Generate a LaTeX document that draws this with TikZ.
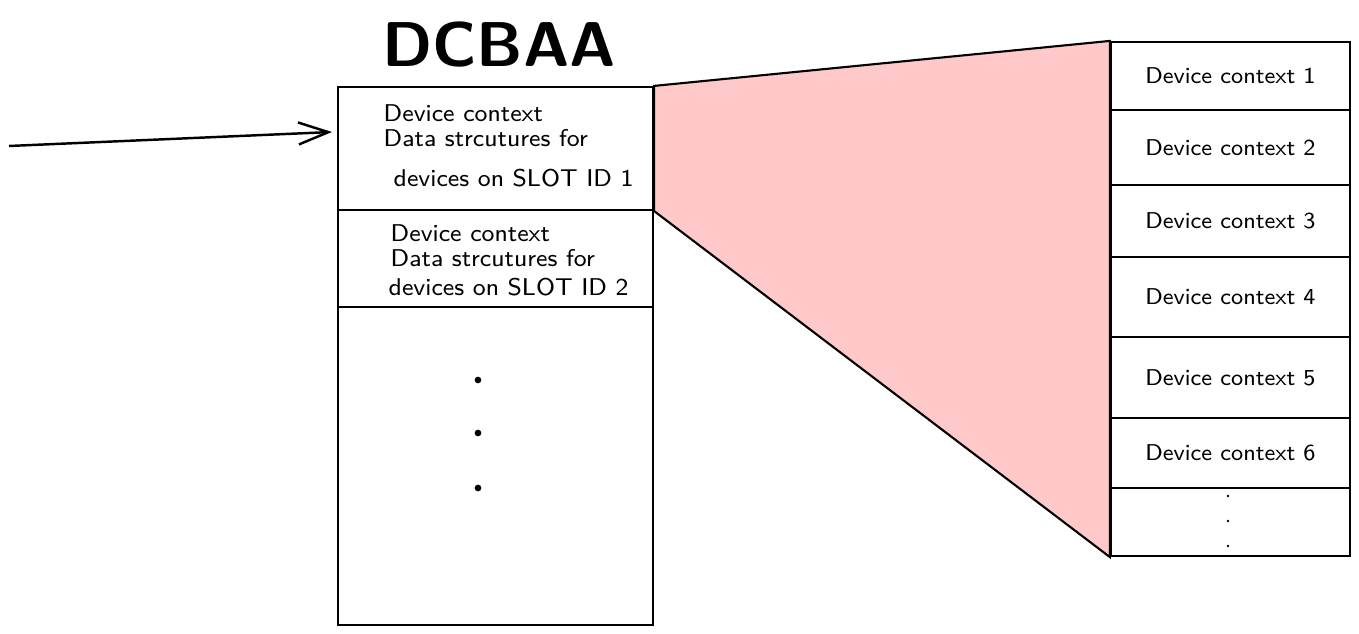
\documentclass[tikz,border=0pt]{standalone}
\usepackage{tikz}
\usetikzlibrary{arrows.meta,backgrounds}
\definecolor{zoompink}{HTML}{FFC9C9}

\begin{document}
\begin{tikzpicture}[x=0.01cm,y=-0.01cm,
  slot/.style={draw,line width=0.6pt,inner sep=0pt,minimum width=3.15cm},
  ctxcell/.style={draw,line width=0.6pt,inner sep=0pt,minimum width=2.39cm,
    font=\sffamily\fontsize{6.5}{8}\selectfont},
  txt/.style={font=\sffamily\fontsize{6.9}{8}\selectfont,inner sep=0pt},
  dot/.style={circle,fill=black,inner sep=0pt,minimum size=#1}]
\useasboundingbox (0,0) rectangle (1359,634);

% DCBAA column
\node[font=\sffamily\bfseries\fontsize{18}{22}\selectfont] (title) at (499,45) {DCBAA};
\node[slot,minimum height=1.23cm] (slot1) at (495.5,148.5) {};
\node[slot,minimum height=0.97cm] (slot2) at (495.5,258.5) {};
\node[slot,minimum height=3.18cm] (slotrest) at (495.5,466) {};

\node[txt,anchor=west] (s1a) at (383,113) {Device context};
\node[txt,anchor=west] (s1b) at (383,138) {Data strcutures for};
\node[txt,anchor=west] (s1c) at (393,178) {devices on SLOT ID 1};
\node[txt,anchor=west] (s2a) at (390,233) {Device context};
\node[txt,anchor=west] (s2b) at (390,258) {Data strcutures for};
\node[txt,anchor=west] (s2c) at (388,287) {devices on SLOT ID 2};

\node[dot=1.9pt] (d1) at (478,380) {};
\node[dot=1.9pt] (d2) at (478,433) {};
\node[dot=1.9pt] (d3) at (478,488) {};

% device contexts
\node[ctxcell,minimum height=0.68cm] (ctx1) at (1230.5,76) {Device context 1};
\node[ctxcell,minimum height=0.75cm] (ctx2) at (1230.5,147.5) {Device context 2};
\node[ctxcell,minimum height=0.72cm] (ctx3) at (1230.5,221) {Device context 3};
\node[ctxcell,minimum height=0.80cm] (ctx4) at (1230.5,297) {Device context 4\hspace{3pt}};
\node[ctxcell,minimum height=0.81cm] (ctx5) at (1230.5,377.5) {Device context 5};
\node[ctxcell,minimum height=0.70cm] (ctx6) at (1230.5,453) {Device context 6};
\node[ctxcell,minimum height=0.68cm] (ctxmore) at (1230.5,522) {};

\node[dot=0.8pt] (e1) at (1228,496) {};
\node[dot=0.8pt] (e2) at (1228,521) {};
\node[dot=0.8pt] (e3) at (1228,546) {};

\begin{scope}[on background layer]
\draw[fill=zoompink,line width=0.6pt] (slot1.north east) -- (ctx1.north west)
  -- (ctxmore.south west) -- (slot1.south east) -- cycle;
\end{scope}

\coordinate (src) at (9,146);
\coordinate (tip) at (332,132);
\draw[-{Straight Barb[length=0.3cm,width=0.22cm]},line width=0.7pt] (src) -- (tip);
\end{tikzpicture}
\end{document}
